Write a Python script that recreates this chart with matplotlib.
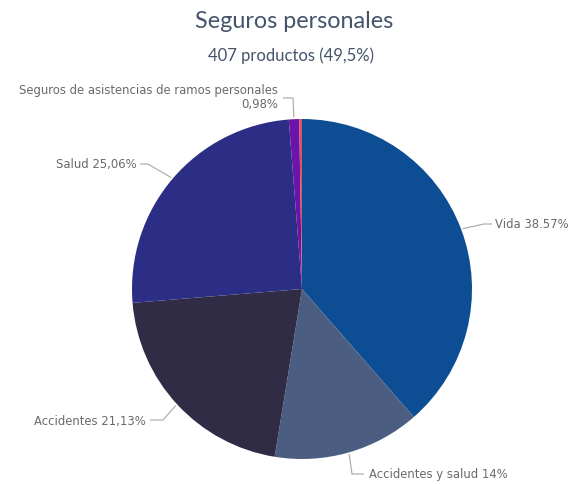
import numpy as np
import matplotlib
matplotlib.use("Agg")
import matplotlib.pyplot as plt

# data
categories = ["Vida", "Accidentes y salud", "Accidentes", "Salud",
              "Seguros de asistencias de ramos personales", "Otros"]
shares = [38.57, 14.0, 21.13, 25.06, 0.98, 0.26]
labels = ["Vida 38.57%", "Accidentes y salud 14%", "Accidentes 21,13%",
          "Salud 25,06%", "Seguros de asistencias de ramos personales\n0,98%", None]
colors = ["#0D4D93", "#4B5E82", "#302C46", "#2C2D84", "#6A14AA", "#E0505E"]

W, H = 571, 485
CX, CY, R = 302, 290, 170  # pie centre / radius in pixels (from top)


def px(x, y):
    """pixel (from top-left) -> data coords"""
    return (x - CX) / R, (CY - y) / R


fig = plt.figure(figsize=(W / 100, H / 100), dpi=100)
ax = fig.add_axes([0, 0, 1, 1])
wedges, _ = ax.pie(shares, colors=colors, startangle=90, counterclock=False,
                   radius=1, wedgeprops=dict(linewidth=0))
ax.set_xlim(-CX / R, (W - CX) / R)
ax.set_ylim(-(H - CY) / R, CY / R)
ax.set_aspect("equal")
ax.axis("off")

grey = "#6a6a6a"
lc = "#b0b0b0"
fs = 8.4
font = "DejaVu Sans"

# leader lines: (knee pixel, end pixel, text pixel, ha, va)
leaders = {
    0: ((484, 225), (492, 225), (495, 225), "left", "center"),
    1: ((352, 475), (364, 475), (369, 475), "left", "center"),
    2: ((163, 421), (150, 421), (146, 421), "right", "center"),
    3: ((148, 165), (140, 165), (137, 165), "right", "center"),
    4: ((293, 99), (283, 99), (278, 98), "right", "center"),
}

for i, (knee, end, tpos, ha, va) in leaders.items():
    w = wedges[i]
    mid = np.deg2rad((w.theta1 + w.theta2) / 2)
    sx, sy = np.cos(mid) * 1.01, np.sin(mid) * 1.01
    kx, ky = px(*knee)
    ex, ey = px(*end)
    ax.plot([sx, kx, ex], [sy, ky, ey], color=lc, lw=0.9, solid_capstyle="butt")
    tx, ty = px(*tpos)
    ax.text(tx, ty, labels[i], ha=ha, va=va, fontsize=fs, color=grey,
            family=font, multialignment="right", linespacing=1.1)

fig.text(294 / W, 1 - 22 / H, "Seguros personales", ha="center", va="center",
         fontsize=16.8, color="#44546A", family="Lato")
fig.text(291 / W, 1 - 56 / H, "407 productos (49,5%)", ha="center", va="center",
         fontsize=12, color="#44546A", family="Lato")

fig.savefig("out.png", dpi=100, facecolor="white")
